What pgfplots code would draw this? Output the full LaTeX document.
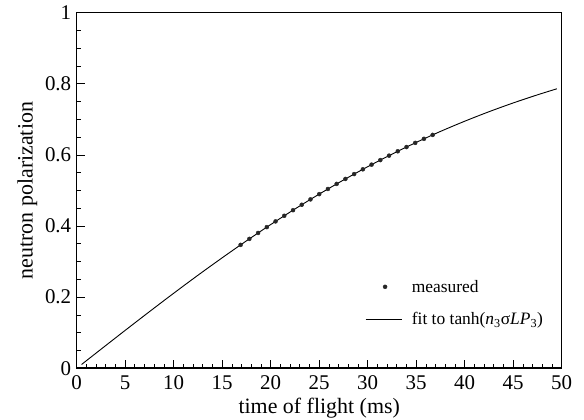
\documentclass[border=0pt]{standalone}
\usepackage{fontspec}
\setmainfont{Liberation Serif}
\usepackage{pgfplots}
\pgfplotsset{compat=1.18}
\begin{document}
\begin{tikzpicture}
\begin{axis}[
  scale only axis,
  width=485bp, height=355.6bp,
  xmin=0, xmax=50, ymin=0, ymax=1,
  xtick={0,5,...,50}, ytick={0,0.2,...,1},
  yticklabels={0,0.2,0.4,0.6,0.8,1},
  minor x tick num=4, minor y tick num=3,
  tick align=inside,
  xtick pos=bottom, ytick pos=left,
  major tick length=8bp, minor tick length=4.5bp,
  tick style={black, line width=0.8bp},
  axis line style={line width=0.8bp},
  /pgf/number format/assume math mode=true,
  tick label style={font={\fontsize{21}{24}\selectfont}},
  label style={font={\fontsize{22}{25}\selectfont}},
  xticklabel style={yshift=-4bp},
  yticklabel style={xshift=-2bp},
  xlabel={time of flight (ms)},
  ylabel={neutron polarization},
  xlabel style={yshift=-1bp},
  ylabel style={yshift=1bp},
  legend style={draw=none, fill=none, at={(rel axis cs:0.588,0.26)}, anchor=north west,
    font={\fontsize{17.5}{20}\selectfont}, row sep=15bp},
  legend cell align=left,
]
\draw[line width=1.6bp] (rel axis cs:0,1) -- (rel axis cs:0,0) -- (rel axis cs:1,0);
\addplot[only marks, mark=*, mark size=2bp, color=black!85,
  legend image code/.code={\path (-1.22cm,0) (0.33cm,0); \fill[black!85] (-0.53cm,0) circle (2bp);}] coordinates {
(16.9,0.3471)(17.8,0.3640)(18.7,0.3806)(19.6,0.3970)(20.5,0.4131)(21.4,0.4289)
(22.3,0.4446)(23.2,0.4599)(24.1,0.4750)(25.0,0.4898)(25.9,0.5043)(26.8,0.5185)
(27.7,0.5325)(28.6,0.5462)(29.5,0.5596)(30.4,0.5727)(31.3,0.5855)(32.2,0.5980)
(33.1,0.6103)(34.0,0.6222)(34.9,0.6339)(35.8,0.6453)(36.7,0.6564)
};
\addlegendentry{measured}
\addplot[black, line width=0.9bp, smooth, legend image code/.code={\path (-1.22cm,0) (0.33cm,0); \draw[black, line width=0.9bp] (-1.22cm,0) -- (0.05cm,0);}] coordinates {
(0.5,0.0107)(2.5,0.0535)(5,0.1067)(7.5,0.1593)(10,0.2111)(12.5,0.2617)(15,0.3108)
(17.5,0.3584)(20,0.4042)(22.5,0.4480)(25,0.4898)(27.5,0.5294)(30,0.5669)(32.5,0.6022)
(35,0.6352)(37.5,0.6661)(40,0.6948)(42.5,0.7215)(45,0.7462)(47.5,0.7690)(49.5,0.7860)
};
\addlegendentry{fit to tanh(\textit{n}\textsubscript{3}σ\textit{LP}\textsubscript{3})}
\coordinate (A) at (rel axis cs:0,0);
\coordinate (B) at (rel axis cs:1,1);
\end{axis}
\pgfresetboundingbox
\path[use as bounding box] ([xshift=-76.7bp,yshift=-51.7bp]A) rectangle ([xshift=22.3bp,yshift=12.7bp]B);
\end{tikzpicture}
\end{document}
